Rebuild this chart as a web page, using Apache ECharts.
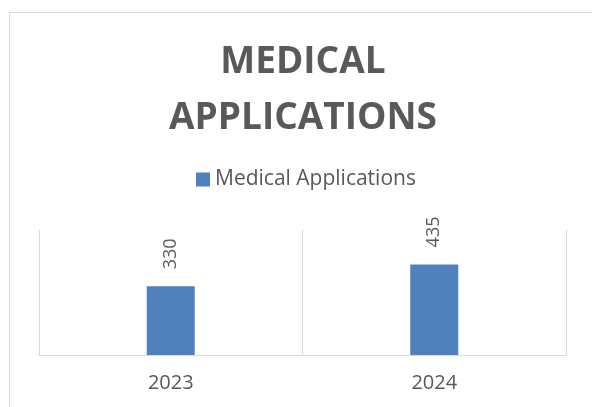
<!DOCTYPE html>
<html>
<head>
<meta charset="utf-8">
<script src="https://cdn.jsdelivr.net/npm/echarts@6/dist/echarts.min.js"></script>
<style>
  html, body { margin: 0; padding: 0; background: #fff; }
  #chart { width: 592px; height: 407px; }
</style>
</head>
<body>
<div id="chart"></div>
<script>
const years = ['2023', '2024']
const applications = [330, 435]
const seriesName = 'Medical Applications'

const chart = echarts.init(document.getElementById('chart'), null, { renderer: 'canvas' })

const options = {
    animation: false,
    textStyle: { fontFamily: 'Open Sans' },
    title: {
        text: 'MEDICAL\nAPPLICATIONS',
        left: 298,
        top: 29,
        textAlign: 'center',
        textStyle: {
            fontFamily: 'Open Sans',
            fontSize: 37,
            fontWeight: 'bold',
            color: '#595959',
            lineHeight: 56
        }
    },
    legend: {
        left: 191,
        top: 164,
        itemWidth: 14,
        itemHeight: 14,
        itemGap: 6,
        icon: 'rect',
        textStyle: { fontSize: 21, color: '#595959', fontFamily: 'Open Sans' },
        data: [seriesName]
    },
    grid: { left: 39, right: 26, top: 230, bottom: 52 },
    xAxis: {
        type: 'category',
        data: years,
        axisTick: { show: false },
        axisLine: { lineStyle: { color: '#d9d9d9', width: 1 } },
        splitLine: { show: true, lineStyle: { color: '#d9d9d9', width: 1 } },
        axisLabel: { fontSize: 20, color: '#595959', margin: 18 }
    },
    yAxis: {
        type: 'value',
        min: 0,
        max: 600,
        show: false
    },
    series: [{
        name: seriesName,
        type: 'bar',
        data: applications,
        barWidth: 48,
        itemStyle: { color: '#4f81bd' },
        label: {
            show: true,
            position: 'top',
            rotate: 90,
            align: 'left',
            verticalAlign: 'middle',
            distance: 17,
            fontSize: 18,
            color: '#595959'
        }
    }],
    graphic: [{
        type: 'rect',
        shape: { x: 9.5, y: 12.5, width: 640, height: 440 },
        style: { fill: 'none', stroke: '#d9d9d9', lineWidth: 1 },
        z: -1
    }]
}

chart.setOption(options)
</script>
</body>
</html>
